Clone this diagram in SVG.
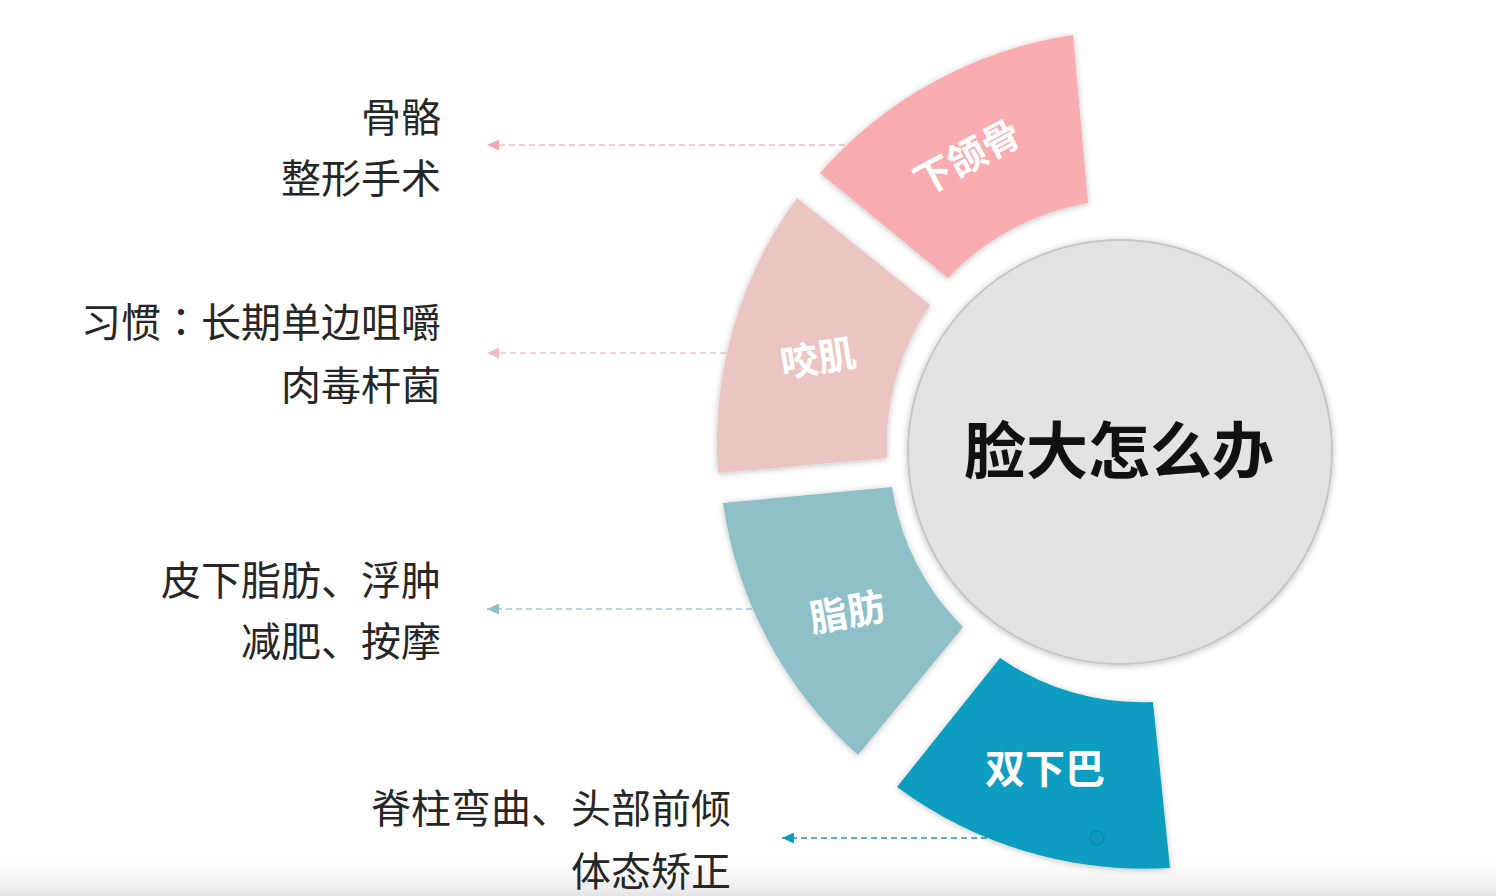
<svg xmlns="http://www.w3.org/2000/svg" width="1496" height="896" viewBox="0 0 1496 896">
<defs>
<style>
.lbl{font-family:"Noto Sans CJK SC","Noto Sans",sans-serif;font-size:40px;fill:#262626;text-anchor:end}
.segt{font-family:"Noto Sans CJK SC","Noto Sans",sans-serif;font-weight:700;fill:#ffffff;text-anchor:middle}
.conn{fill:none;stroke-width:1.6;stroke-dasharray:6 4}
</style>
<filter id="sh" x="-10%" y="-10%" width="120%" height="120%">
<feDropShadow dx="0" dy="1" stdDeviation="3" flood-color="#000" flood-opacity="0.25"/>
</filter>
<linearGradient id="bot" x1="0" y1="0" x2="0" y2="1">
<stop offset="0" stop-color="#ffffff" stop-opacity="0"/>
<stop offset="1" stop-color="#e4e4e4" stop-opacity="1"/>
</linearGradient>
<marker id="a1" markerUnits="userSpaceOnUse" markerWidth="12" markerHeight="11" refX="12" refY="5.5" orient="auto"><path d="M0,0 L12,5.5 L0,11 Z" fill="#f2a9ac"/></marker>
<marker id="a2" markerUnits="userSpaceOnUse" markerWidth="12" markerHeight="11" refX="12" refY="5.5" orient="auto"><path d="M0,0 L12,5.5 L0,11 Z" fill="#eabfbc"/></marker>
<marker id="a3" markerUnits="userSpaceOnUse" markerWidth="12" markerHeight="11" refX="12" refY="5.5" orient="auto"><path d="M0,0 L12,5.5 L0,11 Z" fill="#8fc0c8"/></marker>
<marker id="a4" markerUnits="userSpaceOnUse" markerWidth="12" markerHeight="11" refX="12" refY="5.5" orient="auto"><path d="M0,0 L12,5.5 L0,11 Z" fill="#0e9dc0"/></marker>
</defs>
<rect x="0" y="0" width="1496" height="896" fill="#ffffff"/>
<rect x="0" y="850" width="1496" height="46" fill="url(#bot)"/>

<g id="connectors">
<line class="conn" x1="845" y1="145" x2="487" y2="145" stroke="#f3bcbe" marker-end="url(#a1)"/>
<line class="conn" x1="726" y1="353" x2="487" y2="353" stroke="#ecccc9" marker-end="url(#a2)"/>
<line class="conn" x1="752" y1="609" x2="487" y2="609" stroke="#9fcad0" marker-end="url(#a3)"/>
<line class="conn" x1="1097" y1="838" x2="782" y2="838" stroke="#1a9bbf" marker-end="url(#a4)"/>
</g>

<g id="seg-xiahegu">
<path d="M820,173 A417,417 0 0 1 1073,35 L1088,203 A249,249 0 0 0 948,278 Z" fill="#f9adb0" filter="url(#sh)"/>
<text class="segt" font-size="38" transform="translate(967,157) rotate(-28.5)" y="14">下颌骨</text>
</g>

<g id="seg-yaoji">
<path d="M718,473 A417,417 0 0 1 797,198 L930,305 A249,249 0 0 0 887,458 Z" fill="#ebc5c1" filter="url(#sh)"/>
<text class="segt" font-size="38" transform="translate(818,358) rotate(-9)" y="14">咬肌</text>
</g>

<g id="seg-zhifang">
<path d="M858,755 A417,417 0 0 1 723,503 L892,487 A249,249 0 0 0 963,627 Z" fill="#8fc0c8" filter="url(#sh)"/>
<text class="segt" font-size="38" transform="translate(847,612) rotate(-10)" y="14">脂肪</text>
</g>

<g id="seg-shuangxiaba">
<path d="M1170,868 A417,417 0 0 1 897,787 L1000,658 A249,249 0 0 0 1153,702 Z" fill="#0e9dc0" filter="url(#sh)"/>
<text class="segt" font-size="40" x="1045" y="783" fill="#effafc">双下巴</text>
<circle cx="1097" cy="838" r="7" fill="#0d98ba" stroke="#0a8aab" stroke-width="1.5"/>
</g>

<g id="center">
<circle cx="1120" cy="452" r="212" fill="#e3e3e3" stroke="#c6c6c6" stroke-width="2" filter="url(#sh)"/>
<text x="1119" y="474" font-family="'Noto Sans CJK SC','Noto Sans',sans-serif" font-size="62" font-weight="700" fill="#111" text-anchor="middle">脸大怎么办</text>
</g>

<g id="label-xiahegu">
<text class="lbl" x="441" y="132">骨骼</text>
<text class="lbl" x="441" y="193">整形手术</text>
</g>
<g id="label-yaoji">
<text class="lbl" x="441" y="337">习惯<tspan font-family="'Noto Sans CJK TC','Noto Sans CJK SC',sans-serif">：</tspan>长期单边咀嚼</text>
<text class="lbl" x="441" y="400">肉毒杆菌</text>
</g>
<g id="label-zhifang">
<text class="lbl" x="441" y="595">皮下脂肪、浮肿</text>
<text class="lbl" x="441" y="656">减肥、按摩</text>
</g>
<g id="label-shuangxiaba">
<text class="lbl" x="731" y="823">脊柱弯曲、头部前倾</text>
<text class="lbl" x="731" y="886">体态矫正</text>
</g>
</svg>
